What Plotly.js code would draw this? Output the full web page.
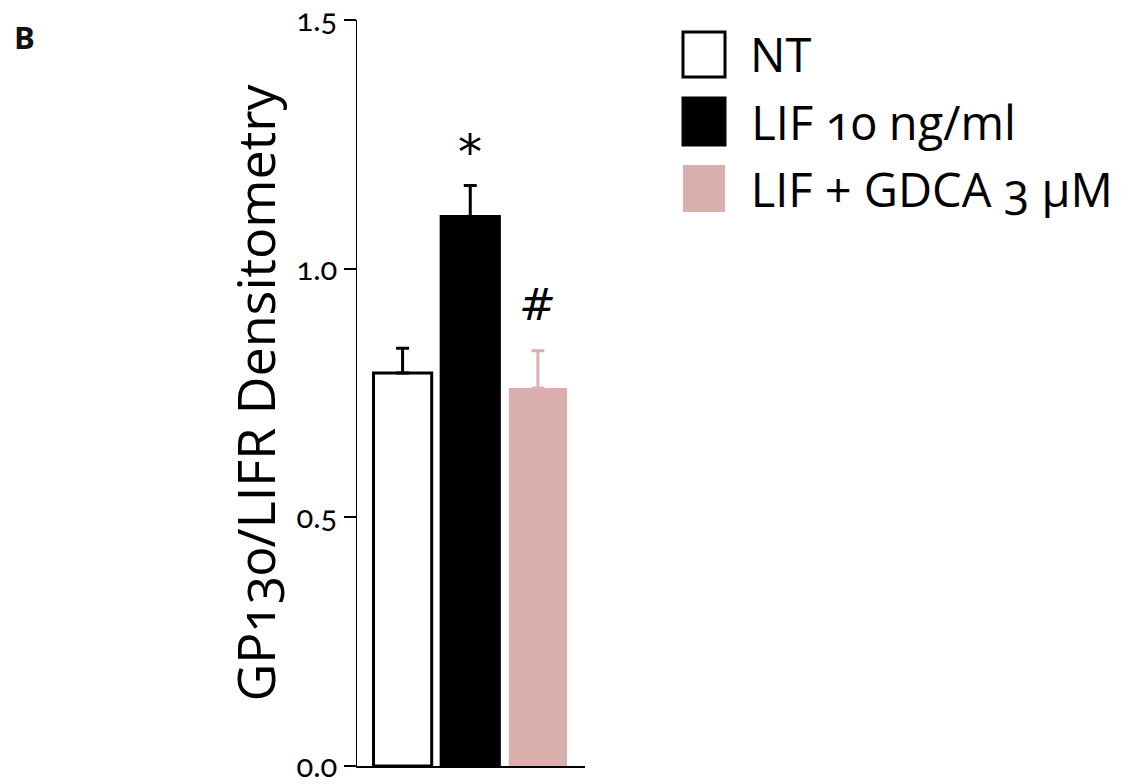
<!DOCTYPE html>
<html><head><meta charset="utf-8">
<script src="https://cdn.plot.ly/plotly-3.0.1.min.js"></script>
<style>
html,body{margin:0;padding:0;background:#fff;}
.main-svg text{font-feature-settings:"onum" 1;}
</style></head>
<body><div id="chart" style="width:1129px;height:784px;"></div>
<script>
const categories = ["NT", "LIF 10 ng/ml", "LIF + GDCA 3 μM"];
const means = [0.79, 1.105, 0.76];
const sems = [0.05, 0.062, 0.075];
const marks = ["", "*", "#"];
const yTicks = [0, 0.5, 1.0, 1.5];
const yTickLabels = ["0.0", "0.5", "1.0", "1.5"];

const fills = ["#ffffff", "#000000", "#dcafaf"];
const lines = ["#000000", "#000000", "#dcafaf"];
const errColors = ["#000000", "#000000", "#dcafaf"];

const W = 1129, H = 784;
const mL = 357, mR = 544, mT = 20, mB = 18;
const pw = W - mL - mR, ph = H - mT - mB;
const px = x => (x - mL) / pw;
const py = y => 1 - (y - mT) / ph;

const traces = categories.map((c, i) => ({
  type: "bar",
  x: [i],
  y: [means[i]],
  name: c,
  width: 0.86,
  marker: {color: fills[i], line: {color: lines[i], width: i === 2 ? 0 : 3}},
  error_y: {type: "data", symmetric: false, array: [sems[i]], arrayminus: [0],
            color: errColors[i], thickness: 3, width: 6.5},
  showlegend: false,
  hoverinfo: "skip"
}));

const annotations = [];
marks.forEach((m, i) => {
  if (!m) return;
  const star = m === "*";
  annotations.push({xref: "x", yref: "y", x: i, y: means[i] + sems[i],
    text: star ? m : "<i>" + m + "</i>",
    showarrow: false, yanchor: "bottom", yshift: star ? 4 : 19,
    font: {family: "DejaVu Sans", size: star ? 48 : 44, color: "#000"}});
});
annotations.push({xref: "paper", yref: "paper", x: px(12), y: py(14), xanchor: "left", yanchor: "top",
  text: "<b>B</b>", showarrow: false, font: {family: "Open Sans", size: 31, color: "#111"}});

const legendBoxes = [[32, 77], [98, 145], [165, 212]];
const shapes = [];
categories.forEach((c, i) => {
  const [t, b] = legendBoxes[i];
  shapes.push({type: "rect", xref: "paper", yref: "paper",
    x0: px(683), x1: px(725), y0: py(b), y1: py(t),
    fillcolor: fills[i], line: {color: i === 2 ? fills[i] : "#000", width: i === 2 ? 0 : 3}});
  annotations.push({xref: "paper", yref: "paper", x: px(748), y: py((t + b) / 2),
    xanchor: "left", yanchor: "middle", text: c, showarrow: false,
    font: {family: "Open Sans", size: 47, color: "#000"}});
});

const layout = {
  width: W, height: H,
  margin: {l: mL, r: mR, t: mT, b: mB, pad: 0},
  paper_bgcolor: "#fff", plot_bgcolor: "#fff",
  barmode: "overlay",
  showlegend: false,
  xaxis: {range: [-0.674, 2.696], showticklabels: false, ticks: "", showgrid: false,
          zeroline: false, showline: true, linecolor: "#000", linewidth: 2, fixedrange: true},
  yaxis: {range: [0, 1.5], tickvals: yTicks, ticktext: yTickLabels, ticks: "outside",
          ticklen: 12, tickwidth: 2, tickcolor: "#000", showgrid: false, zeroline: false,
          showline: true, linecolor: "#000", linewidth: 1.5, ticklabelstandoff: 0,
          ticklabeloverflow: "allow",
          tickfont: {family: "Lato", size: 31, color: "#000"},
          title: {text: "GP130/LIFR Densitometry", standoff: 2,
                  font: {family: "Open Sans", size: 52, color: "#000"}}},
  shapes: shapes,
  annotations: annotations
};

Plotly.newPlot("chart", traces, layout, {displayModeBar: false, staticPlot: true});
</script></body></html>
